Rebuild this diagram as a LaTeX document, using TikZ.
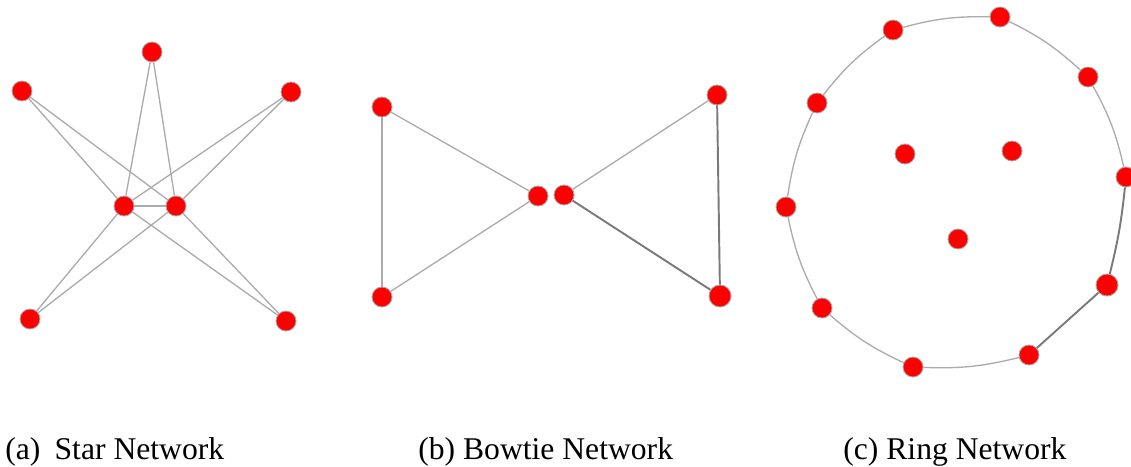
\documentclass[tikz,border=0pt]{standalone}
\usepackage{fontspec}
\setmainfont{Liberation Serif}
\newfontfamily\capfont{Liberation Serif}
\usetikzlibrary{positioning}
\tikzset{%
  mynode/.style={circle, fill=red, draw=black!35, line width=0.5pt, minimum size=0.4cm, inner sep=0pt},
  bignode/.style={mynode, minimum size=0.44cm},
  myedge/.style={draw=black!33, line width=0.75pt},
  darkedge/.style={draw=black!52, line width=1.1pt},
  mycap/.style={anchor=base west, inner sep=0pt, font=\capfont\fontsize{18}{22}\selectfont}
}
\begin{document}
\begin{tikzpicture}[x=0.02cm, y=0.02cm]
  \useasboundingbox (0,0) rectangle (1131,-466);
  % star
  \node[mynode] (s1) at (152,-52) {};
  \node[mynode] (s2) at (22,-91) {};
  \node[mynode] (s3) at (291,-92) {};
  \node[mynode] (s4) at (124,-206) {};
  \node[mynode] (s5) at (176,-206) {};
  \node[mynode] (s6) at (30,-319) {};
  \node[mynode] (s7) at (286,-321) {};
  \foreach \a in {s1,s2,s3,s6,s7} {
    \draw [myedge] (\a) -- (s4);
    \draw [myedge] (\a) -- (s5);
  }
  \draw [myedge] (s4) -- (s5);
  % bowtie
  \node[mynode] (b1) at (382,-107) {};
  \node[mynode] (b2) at (382,-297) {};
  \node[mynode] (b3) at (538,-196) {};
  \node[mynode] (b4) at (564,-195) {};
  \node[mynode] (b5) at (717,-95) {};
  \node[bignode] (b6) at (720,-296) {};
  \draw [myedge] (b1) -- (b2);
  \draw [myedge] (b1) -- (b3);
  \draw [myedge] (b2) -- (b3);
  \draw [myedge] (b4) -- (b5);
  \draw [darkedge] (b4) -- (b6);
  \draw [darkedge] (b5) -- (b6);
  % ring
  \node[mynode] (r1) at (817,-103) {};
  \node[mynode] (r2) at (893,-30) {};
  \node[mynode] (r3) at (1000,-17) {};
  \node[mynode] (r4) at (1088,-77) {};
  \node[mynode] (r5) at (1126,-177) {};
  \node[bignode] (r6) at (1107,-285) {};
  \node[mynode] (r7) at (1029,-355) {};
  \node[mynode] (r8) at (913,-367) {};
  \node[mynode] (r9) at (822,-308) {};
  \node[mynode] (r10) at (786,-207) {};
  \node[mynode] (r11) at (905,-154) {};
  \node[mynode] (r12) at (1012,-151) {};
  \node[mynode] (r13) at (958,-239) {};
  \draw [myedge] (r1) to[bend left=8] (r2);
  \draw [myedge] (r2) to[bend left=8] (r3);
  \draw [myedge] (r3) to[bend left=8] (r4);
  \draw [myedge] (r4) to[bend left=8] (r5);
  \draw [darkedge] (r5) to[bend left=4] (r6);
  \draw [darkedge] (r6) -- (r7);
  \draw [myedge] (r7) to[bend left=8] (r8);
  \draw [myedge] (r8) to[bend left=8] (r9);
  \draw [myedge] (r9) to[bend left=8] (r10);
  \draw [myedge] (r10) to[bend left=8] (r1);
  % captions
  \node[mycap] (ca) at (5,-459) {(a)\hspace{0.45em}Star Network};
  \node[mycap] (cb) at (418,-459) {(b) Bowtie Network};
  \node[mycap] (cc) at (843,-459) {(c) Ring Network};
\end{tikzpicture}
\end{document}
